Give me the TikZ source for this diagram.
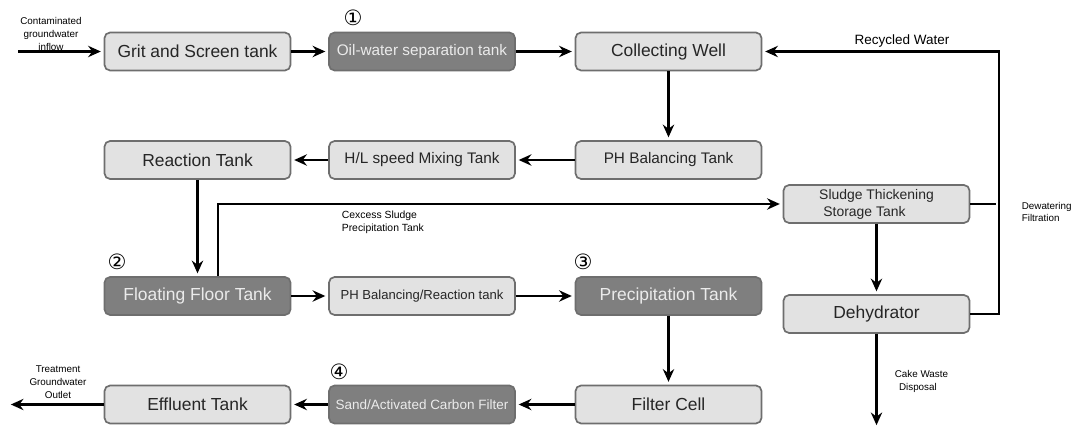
\documentclass[tikz,border=0pt]{standalone}
\usepackage{fontspec}
\setmainfont{Liberation Sans}
\newfontfamily\circfont{DejaVu Sans}
\usetikzlibrary{arrows.meta}

\definecolor{boxline}{HTML}{6E6E6E}
\definecolor{lightfill}{HTML}{E2E2E2}
\definecolor{darkfill}{HTML}{7F7F7F}

\begin{document}
\begin{tikzpicture}[x=0.025cm,y=-0.025cm,->,>={Stealth[length=9pt,width=8pt]},shorten >=2pt,line width=1.6pt,
    tank node/.style={draw=boxline,line width=1.2pt,fill=lightfill,rounded corners=4pt,minimum width=4.65cm,minimum height=0.95cm,inner sep=2pt,text=black!85},
    dark node/.style={tank node,fill=darkfill,text=white!92!black},
    big/.style={font=\fontsize{12.4}{14}\selectfont},
    mid/.style={font=\fontsize{10.9}{13}\selectfont},
    small/.style={font=\fontsize{9.3}{11}\selectfont},
    note/.style={font=\fontsize{7}{9.2}\selectfont,align=center},
    num/.style={font=\circfont\fontsize{15}{15}\selectfont}]
    \path[use as bounding box,fill=white] (0,0) rectangle (1071,431);

    % tanks, row by row
    \node[tank node,big] (grit) at (197.5,51.5) {Grit and Screen tank};
    \node[dark node,mid] (oil) at (422,51.5) {Oil-water separation tank};
    \node[tank node,big] (collect) at (668.5,51.5) {Collecting Well};

    \node[tank node,big] (reaction) at (197.5,160) {Reaction Tank};
    \node[tank node,mid] (mixing) at (422,160) {H/L speed Mixing Tank};
    \node[tank node,mid] (phbal) at (668.5,160) {PH Balancing Tank};

    \node[tank node,small,font=\fontsize{9.9}{12}\selectfont,align=left] (sludge) at (876.5,204) {Sludge Thickening\\\hspace*{3pt}Storage Tank};

    \node[dark node,big] (floating) at (197.5,296) {Floating Floor Tank};
    \node[tank node,small] (phreact) at (422,296) {PH Balancing/Reaction tank};
    \node[dark node,big] (precip) at (668.5,296) {Precipitation Tank};
    \node[tank node,big] (dehyd) at (876.5,314) {Dehydrator};

    \node[tank node,big] (effluent) at (197.5,404.5) {Effluent Tank};
    \node[dark node,small,font=\fontsize{9.6}{12}\selectfont] (sand) at (422,404.5) {Sand/Activated Carbon Filter};
    \node[tank node,big] (filter) at (668.5,404.5) {Filter Cell};

    % step numbers
    \node[num] (n1) at (353,18) {①};
    \node[num] (n2) at (117,262) {②};
    \node[num] (n3) at (583,262) {③};
    \node[num] (n4) at (339,372) {④};

    % free ends and bends
    \coordinate (in) at (18,51.5);
    \coordinate (out) at (8,404.5);
    \coordinate (ex) at (218,204);
    \coordinate (rc) at (999,51.5);
    \coordinate (cake) at (876.5,428);

    % labels
    \node[note] (inlbl) at (51,34) {Contaminated\\groundwater\\inflow};
    \node[note] (outlbl) at (58,382) {Treatment\\Groundwater\\Outlet};
    \node[note,align=left,anchor=west,font=\fontsize{7.4}{9.2}\selectfont] (exlbl) at (336,222.5) {Cexcess Sludge\\Precipitation Tank};
    \node[font=\fontsize{9.6}{11}\selectfont] (rwlbl) at (902,41) {Recycled Water};
    \node[note,align=left,anchor=west] (dwlbl) at (1016,212) {Dewatering\\Filtration};
    \node[note,align=left,anchor=west] (cklbl) at (889,381) {Cake Waste\\\hspace*{3pt}Disposal};

    % flow
    \draw (in) -- (grit);
    \draw (grit) -- (oil);
    \draw (oil) -- (collect);
    \draw (collect) -- (phbal);
    \draw (phbal) -- (mixing);
    \draw (mixing) -- (reaction);
    \draw (reaction) -- (floating);
    \draw (floating.north -| ex) |- (sludge.west);
    \draw (floating) -- (phreact);
    \draw (phreact) -- (precip);
    \draw (precip) -- (filter);
    \draw (filter) -- (sand);
    \draw (sand) -- (effluent);
    \draw (effluent) -- (out);

    % sludge line
    \draw (sludge) -- (dehyd);
    \draw (dehyd) -- (cake);
    \draw[-] (sludge.east) -- (sludge.east -| rc);
    \draw (dehyd.east) -| (rc) -- (collect.east);
\end{tikzpicture}
\end{document}
